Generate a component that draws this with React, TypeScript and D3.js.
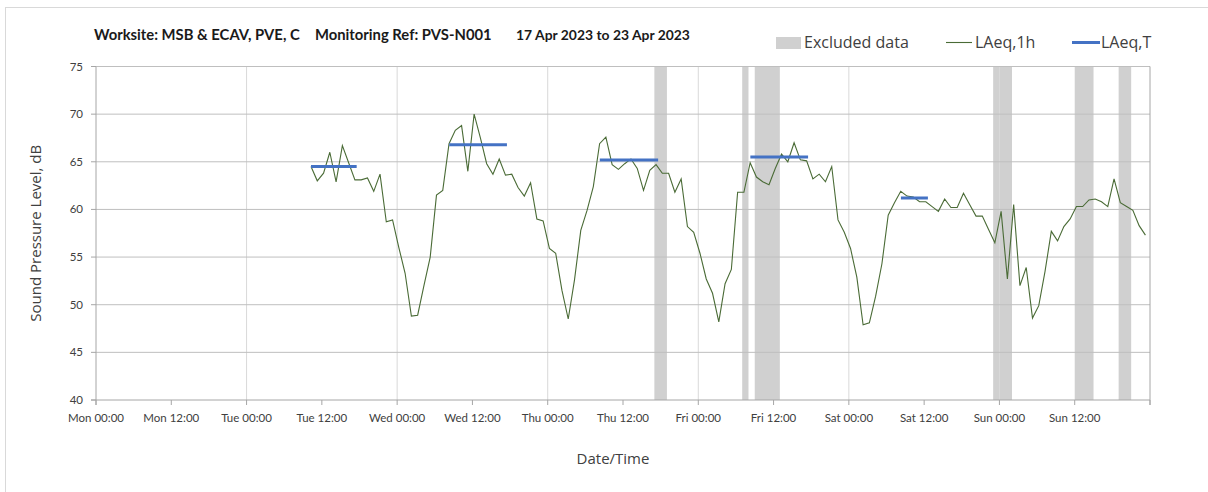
import * as d3 from "d3";

// hours are counted from Mon 00:00 (17 Apr 2023)
const dataStart = 34.27;
const laeq1h = [
  64.5, 63.0, 63.8, 66.0, 62.9, 66.7, 64.9, 63.1, 63.1, 63.3,
  61.9, 63.7, 58.7, 58.9, 56.0, 53.3, 48.8, 48.9, 52.0, 55.0,
  61.5, 62.0, 66.9, 68.3, 68.8, 64.0, 70.0, 67.5, 64.8, 63.7,
  65.3, 63.6, 63.7, 62.3, 61.4, 62.8, 59.0, 58.8, 55.9, 55.4,
  51.5, 48.5, 52.6, 57.8, 59.9, 62.4, 66.9, 67.6, 64.7, 64.2,
  64.8, 65.3, 64.3, 62.0, 64.1, 64.7, 63.8, 63.8, 61.8, 63.2,
  58.2, 57.6, 55.4, 52.7, 51.2, 48.2, 52.2, 53.7, 61.8, 61.8,
  64.9, 63.4, 62.9, 62.6, 64.3, 65.8, 65.0, 67.0, 65.2, 65.1,
  63.2, 63.7, 62.9, 64.5, 58.9, 57.6, 55.9, 52.9, 47.9, 48.1,
  50.9, 54.3, 59.4, 60.7, 61.9, 61.4, 61.3, 60.8, 60.8, 60.3,
  59.8, 61.1, 60.2, 60.2, 61.7, 60.5, 59.3, 59.3, 57.9, 56.5,
  59.8, 52.7, 60.5, 52.0, 53.9, 48.6, 49.9, 53.5, 57.7, 56.7,
  58.2, 59.0, 60.3, 60.3, 61.0, 61.1, 60.8, 60.3, 63.2, 60.7,
  60.3, 59.9, 58.3, 57.3,
];

const laeqTStart = [34.27, 56.3, 80.3, 104.3, 128.3];
const laeqTEnd = [41.55, 65.5, 89.6, 113.5, 132.6];
const laeqTValue = [64.5, 66.8, 65.2, 65.5, 61.2];

const excludedStart = [89, 103, 105, 143, 156, 163];
const excludedEnd = [91, 104, 109, 146, 159, 165];

const xTickLabels = [
  "Mon 00:00", "Mon 12:00", "Tue 00:00", "Tue 12:00", "Wed 00:00", "Wed 12:00",
  "Thu 00:00", "Thu 12:00", "Fri 00:00", "Fri 12:00", "Sat 00:00", "Sat 12:00",
  "Sun 00:00", "Sun 12:00",
];
const yTicks = [40, 45, 50, 55, 60, 65, 70, 75];

const W = 1208;
const H = 492;
const margin = { left: 96, right: 58, top: 66.5, bottom: 92 };
const tickFont = "Lato, 'Open Sans', sans-serif";
const labelFont = "'Open Sans', 'Noto Sans', sans-serif";

export default function App() {
  const x = d3.scaleLinear().domain([0, 168]).range([margin.left, W - margin.right]);
  const y = d3.scaleLinear().domain([40, 75]).range([H - margin.bottom, margin.top]);
  const x0 = x(0);
  const x1 = x(168);
  const yb = y(40);
  const yt = y(75);

  const pts: [number, number][] = laeq1h.map((v, i) => [dataStart + i, v]);
  const line = d3
    .line<[number, number]>()
    .x((d) => x(d[0]))
    .y((d) => y(d[1]));

  const tickHours = d3.range(0, 169, 12);
  const dayHours = d3.range(24, 168, 24);

  return (
    <svg
      width={W}
      height={H}
      style={{ position: "absolute", left: 0, top: 0, background: "#fff" }}
    >
      <rect x={5.5} y={7.5} width={W} height={H} fill="none" stroke="#d9d9d9" />

      {/* excluded bands */}
      {excludedStart.map((s, i) => (
        <rect
          key={"ex" + i}
          x={x(s)}
          y={yt}
          width={x(excludedEnd[i]) - x(s)}
          height={yb - yt}
          fill="#d0d0d0"
        />
      ))}

      {/* grid */}
      {dayHours.map((h) => (
        <line key={"vg" + h} x1={x(h)} x2={x(h)} y1={yt} y2={yb} stroke="#d9d9d9" strokeWidth={1} />
      ))}
      {yTicks.slice(1).map((t) => (
        <line key={"hg" + t} x1={x0} x2={x1} y1={y(t)} y2={y(t)} stroke="#bfbfbf" strokeWidth={1} />
      ))}

      {/* axes */}
      <line x1={x0} x2={x0} y1={yt} y2={yb + 5} stroke="#a6a6a6" />
      <line x1={x1} x2={x1} y1={yt} y2={yb + 5} stroke="#a6a6a6" />
      <line x1={x0 - 5} x2={x1} y1={yb} y2={yb} stroke="#a6a6a6" />
      {yTicks.map((t) => (
        <g key={"yt" + t}>
          <line x1={x0 - 5} x2={x0} y1={y(t)} y2={y(t)} stroke="#a6a6a6" />
          <text
            x={x0 - 13}
            y={y(t) + 4}
            textAnchor="end"
            fontFamily={tickFont}
            fontSize={11.5}
            fill="#404040"
          >
            {t}
          </text>
        </g>
      ))}
      {tickHours.map((h, i) => (
        <g key={"xt" + h}>
          <line x1={x(h)} x2={x(h)} y1={yb} y2={yb + 5} stroke="#a6a6a6" />
          {xTickLabels[i] && (
            <text
              x={x(h)}
              y={yb + 22}
              textAnchor="middle"
              fontFamily={tickFont}
              fontSize={11.5}
              fill="#404040"
            >
              {xTickLabels[i]}
            </text>
          )}
        </g>
      ))}

      {/* series */}
      <path d={line(pts) || ""} fill="none" stroke="#4a6b36" strokeWidth={1.1} />
      {laeqTStart.map((s, i) => (
        <line
          key={"lt" + i}
          x1={x(s)}
          x2={x(laeqTEnd[i])}
          y1={y(laeqTValue[i])}
          y2={y(laeqTValue[i])}
          stroke="#4472c4"
          strokeWidth={3}
        />
      ))}

      {/* title */}
      <g fontFamily={tickFont} fontWeight="bold" fill="#1a1a1a">
        <text x={94} y={40} fontSize={14.8}>Worksite: MSB &amp; ECAV, PVE, C</text>
        <text x={315} y={40} fontSize={14.8}>Monitoring Ref: PVS-N001</text>
        <text x={516} y={40} fontSize={13.9}>17 Apr 2023 to 23 Apr 2023</text>
      </g>

      {/* legend */}
      <g fontFamily={labelFont} fontSize={16} fill="#404040">
        <rect x={776} y={37} width={25} height={12} fill="#d0d0d0" />
        <text x={804} y={48}>Excluded data</text>
        <line x1={946} x2={972} y1={42.5} y2={42.5} stroke="#4a6b36" strokeWidth={1.1} />
        <text x={975} y={48}>LAeq,1h</text>
        <line x1={1072} x2={1100} y1={42.5} y2={42.5} stroke="#4472c4" strokeWidth={3} />
        <text x={1101} y={48}>LAeq,T</text>
      </g>

      {/* axis titles */}
      <text
        transform={`translate(41, ${(yt + yb) / 2}) rotate(-90)`}
        textAnchor="middle"
        fontFamily={labelFont}
        fontSize={15}
        fill="#404040"
      >
        Sound Pressure Level, dB
      </text>
      <text
        x={(x0 + x1) / 2 - 10}
        y={464}
        textAnchor="middle"
        fontFamily={labelFont}
        fontSize={15}
        fill="#404040"
      >
        Date/Time
      </text>
    </svg>
  );
}
